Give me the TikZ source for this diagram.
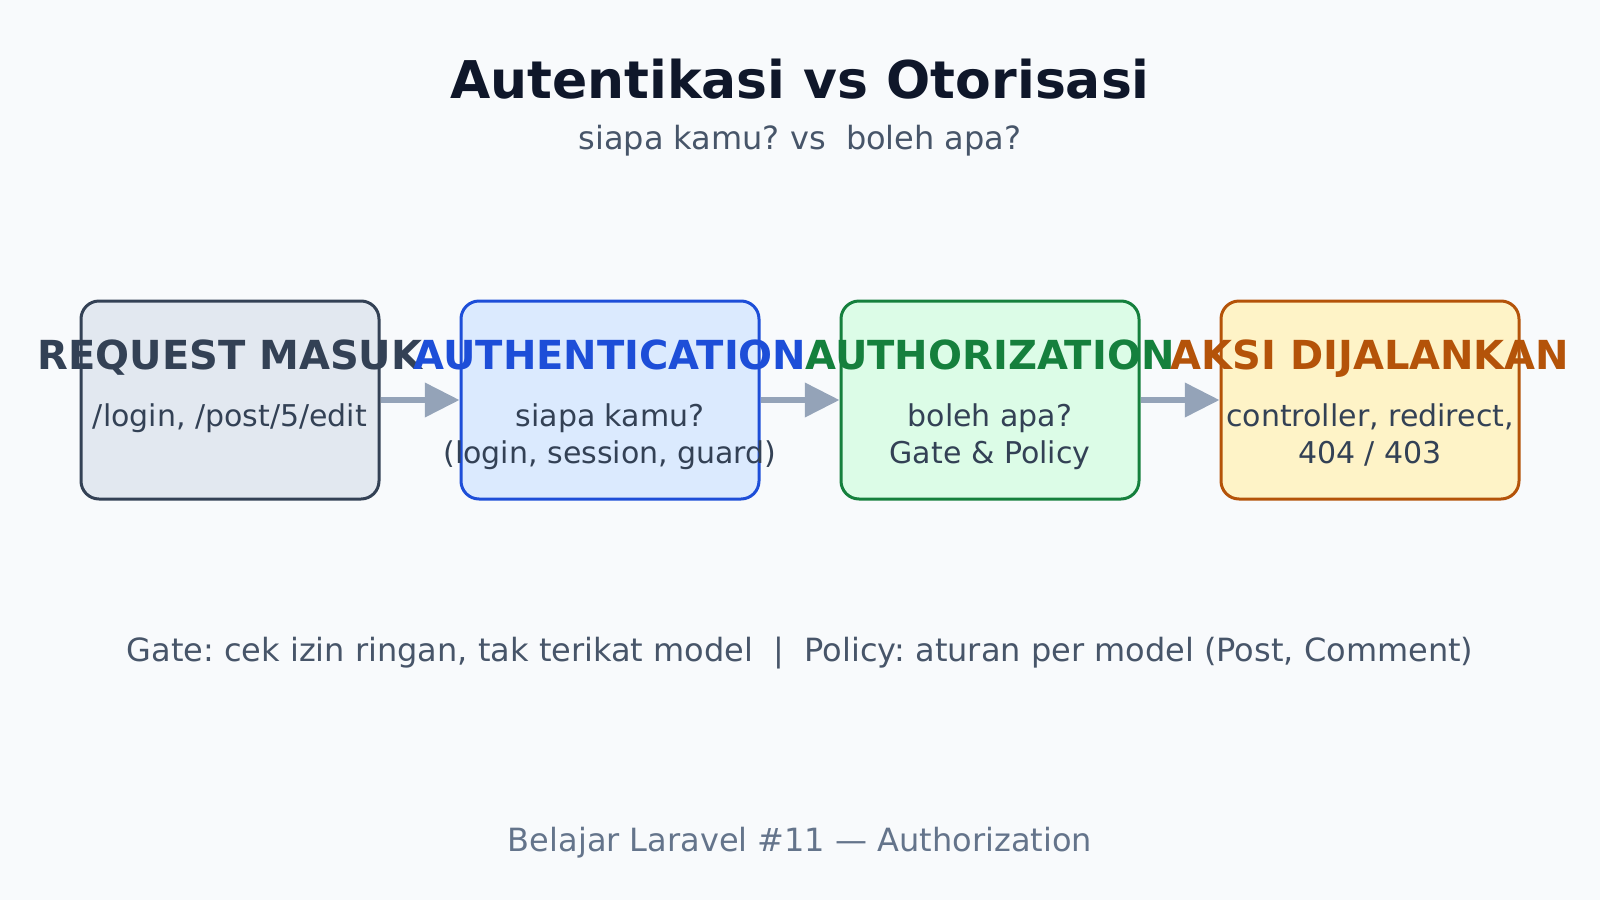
\documentclass[tikz,border=0pt]{standalone}
\usepackage{fontspec}
\setmainfont{DejaVu Sans}
\usetikzlibrary{arrows.meta}
\frenchspacing
\definecolor{bgcol}{HTML}{F8FAFC}
\definecolor{titlecol}{HTML}{0F172A}
\definecolor{subcol}{HTML}{475569}
\definecolor{footcol}{HTML}{64748B}
\definecolor{slatecol}{HTML}{334155}
\definecolor{slatefill}{HTML}{E2E8F0}
\definecolor{bluecol}{HTML}{1D4ED8}
\definecolor{bluefill}{HTML}{DBEAFE}
\definecolor{greencol}{HTML}{15803D}
\definecolor{greenfill}{HTML}{DCFCE7}
\definecolor{orangecol}{HTML}{B45309}
\definecolor{orangefill}{HTML}{FEF3C7}
\definecolor{arrowcol}{HTML}{94A3B8}
\tikzset{
  stagebox/.style={draw=#1, line width=2.25pt, rounded corners=13.5pt,
    minimum width=223.5pt, minimum height=148.5pt, inner sep=0pt},
  stagetitle/.style={anchor=base, inner sep=0.75pt, text=#1,
    font=\fontsize{30}{36}\selectfont\bfseries},
  stagetext/.style={anchor=base, inner sep=0.75pt, text=slatecol, align=center,
    font=\fontsize{22.5}{27.75}\selectfont},
  flowarrow/.style={draw=arrowcol, line width=4.5pt,
    -{Triangle[length=26pt,width=25pt]}},
}
\begin{document}
\begin{tikzpicture}[x=0.75pt,y=0.75pt,yscale=-1,xscale=1]
\fill[bgcol] (0,0) rectangle (1600,900);
\useasboundingbox (0,0) rectangle (1600,900);
% Text Node
\draw (800,98) node [anchor=base] [inner sep=0.75pt, text=titlecol, font=\fontsize{39}{47}\selectfont\bfseries] (title) {Autentikasi vs Otorisasi};
% Text Node
\draw (800,149) node [anchor=base] [inner sep=0.75pt, text=subcol, font=\fontsize{24}{29}\selectfont] (subtitle) {siapa kamu? vs\ \ boleh apa?};

\draw (230,400) node [stagebox=slatecol, fill=slatefill] (req) {};
\draw (610,400) node [stagebox=bluecol, fill=bluefill] (authn) {};
\draw (990,400) node [stagebox=greencol, fill=greenfill] (authz) {};
\draw (1370,400) node [stagebox=orangecol, fill=orangefill] (aksi) {};

\draw[flowarrow] (req.east) -- (authn.west);
\draw[flowarrow] (authn.east) -- (authz.west);
\draw[flowarrow] (authz.east) -- (aksi.west);

% Text Node
\draw (230,369) node [stagetitle=slatecol] (reqtitle) {REQUEST MASUK};
% Text Node
\draw (610,369) node [stagetitle=bluecol] (authntitle) {AUTHENTICATION};
% Text Node
\draw (990,369) node [stagetitle=greencol] (authztitle) {AUTHORIZATION};
% Text Node
\draw (1370,369) node [stagetitle=orangecol] (aksititle) {AKSI DIJALANKAN};

% Text Node
\draw (230,426) node [stagetext] (reqtext) {/login, /post/5/edit};
% Text Node
\draw (610,463) node [stagetext] (authntext) {siapa kamu?\\(login, session, guard)};
% Text Node
\draw (990,463) node [stagetext] (authztext) {boleh apa?\\Gate \& Policy};
% Text Node
\draw (1370,463) node [stagetext] (aksitext) {controller, redirect,\\404 / 403};

% Text Node
\draw (800,661) node [anchor=base] [inner sep=0.75pt, text=subcol, font=\fontsize{24}{29}\selectfont] (note) {Gate: cek izin ringan, tak terikat model\ \ |\ \ Policy: aturan per model (Post, Comment)};
% Text Node
\draw (800,851) node [anchor=base] [inner sep=0.75pt, text=footcol, font=\fontsize{24}{29}\selectfont] (footer) {Belajar Laravel \#11 — Authorization};
\end{tikzpicture}
\end{document}
